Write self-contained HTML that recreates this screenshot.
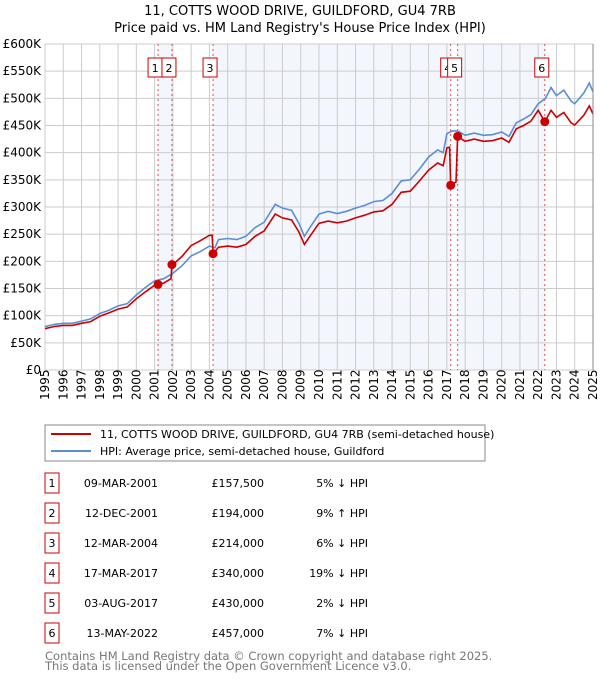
<!DOCTYPE html>
<html><head><meta charset="utf-8"><style>
body{margin:0;background:#fff;font-family:"DejaVu Sans","Liberation Sans",sans-serif;}
svg text{font-family:"DejaVu Sans","Liberation Sans",sans-serif;}
</style></head><body>
<svg id="c" width="600" height="680" xmlns="http://www.w3.org/2000/svg">
<text x="300" y="15" text-anchor="middle" font-size="13">11, COTTS WOOD DRIVE, GUILDFORD, GU4 7RB</text>
<text x="300" y="32" text-anchor="middle" font-size="13">Price paid vs. HM Land Registry's House Price Index (HPI)</text>
<g id="plot"></g>
<g>
<rect x="45" y="425" width="440" height="36" fill="#fff" stroke="#888"/>
<line x1="51" y1="434" x2="91" y2="434" stroke="#cc0000" stroke-width="2"/>
<text x="100" y="438" font-size="11">11, COTTS WOOD DRIVE, GUILDFORD, GU4 7RB (semi-detached house)</text>
<line x1="51" y1="451" x2="91" y2="451" stroke="#5b8fd4" stroke-width="2"/>
<text x="100" y="455" font-size="11">HPI: Average price, semi-detached house, Guildford</text>
</g>
<g id="table"></g>
<text x="45" y="660" font-size="11.5" fill="#777">Contains HM Land Registry data © Crown copyright and database right 2025.</text>
<text x="45" y="670" font-size="11.5" fill="#777">This data is licensed under the Open Government Licence v3.0.</text>
</svg>
<script>
const hpiDates=[1995,1995.5,1996,1996.5,1997,1997.5,1998,1998.5,1999,1999.5,2000,2000.5,2001,2001.5,2002,2002.5,2003,2003.5,2004,2004.3,2004.5,2005,2005.5,2006,2006.5,2007,2007.6,2008,2008.5,2008.9,2009.2,2009.5,2010,2010.5,2011,2011.5,2012,2012.5,2013,2013.5,2014,2014.5,2015,2015.5,2016,2016.5,2016.8,2017,2017.3,2017.6,2018,2018.5,2019,2019.5,2020,2020.4,2020.8,2021.2,2021.6,2022,2022.4,2022.7,2023,2023.4,2023.8,2024,2024.5,2024.8,2025];
const hpiValues=[80,84,86,86,90,94,104,110,118,122,138,152,164,168,178,192,210,218,228,225,240,242,240,246,262,272,305,298,294,270,246,262,287,292,288,292,298,303,310,312,325,348,350,370,392,405,400,435,440,440,432,436,432,433,438,430,455,462,470,490,500,520,505,515,495,490,510,528,512];
const redDates=[1995,1995.5,1996,1996.5,1997,1997.5,1998,1998.5,1999,1999.5,2000,2000.5,2001,2001.19,2001.5,2001.9,2001.95,2002,2002.5,2003,2003.5,2004,2004.15,2004.2,2004.5,2005,2005.5,2006,2006.5,2007,2007.6,2008,2008.5,2008.9,2009.2,2009.5,2010,2010.5,2011,2011.5,2012,2012.5,2013,2013.5,2014,2014.5,2015,2015.5,2016,2016.5,2016.8,2017,2017.15,2017.21,2017.5,2017.59,2018,2018.5,2019,2019.5,2020,2020.4,2020.8,2021.2,2021.6,2022,2022.36,2022.7,2023,2023.4,2023.8,2024,2024.5,2024.8,2025];
const redValues=[76,80,82,82,86,89,99,105,112,116,131,144,156,157.5,160,168,194,194,209,229,238,248,248,214,226,228,226,231,246,256,287,280,276,254,231,246,270,274,271,274,280,285,291,293,305,327,329,348,368,381,376,409,410,340,346,430,421,425,421,422,427,419,444,450,458,478,457,478,465,474,455,451,469,486,471];
const saleLabels=["1","2","3","4","5","6"];
const saleDates=[2001.19,2001.95,2004.2,2017.21,2017.59,2022.36];
const salePrices=[157.5,194,214,340,430,457];
const saleDateText=["09-MAR-2001","12-DEC-2001","12-MAR-2004","17-MAR-2017","03-AUG-2017","13-MAY-2022"];
const salePriceText=["£157,500","£194,000","£214,000","£340,000","£430,000","£457,000"];
const saleHpiText=["5% ↓ HPI","9% ↑ HPI","6% ↓ HPI","19% ↓ HPI","2% ↓ HPI","7% ↓ HPI"];
const yTicks=[0,50,100,150,200,250,300,350,400,450,500,550,600];
const yTickLabels=["£0","£50K","£100K","£150K","£200K","£250K","£300K","£350K","£400K","£450K","£500K","£550K","£600K"];
const xTicks=[1995,1996,1997,1998,1999,2000,2001,2002,2003,2004,2005,2006,2007,2008,2009,2010,2011,2012,2013,2014,2015,2016,2017,2018,2019,2020,2021,2022,2023,2024,2025];

const NS="http://www.w3.org/2000/svg";
const X0=45,X1=593,Y0=370,Y1=44;
const xs=d=>X0+(d-1995)/(2025-1995)*(X1-X0);
const ys=v=>Y0-v/600*(Y0-Y1);
const plot=document.getElementById('plot');
function mk(tag,attrs,parent){const e=document.createElementNS(NS,tag);for(const k in attrs)e.setAttribute(k,attrs[k]);(parent||plot).appendChild(e);return e;}

let bg=mk('rect',{x:X0,y:Y1,width:X1-X0,height:Y0-Y1,fill:'#fff'});


const shadePairs=[[0,1],[2,3],[4,5]];
shadePairs.forEach(p=>{
  let r=mk('rect',{x:xs(saleDates[p[0]]),y:Y1,width:xs(saleDates[p[1]])-xs(saleDates[p[0]]),height:Y0-Y1,fill:'#f3f6fd'});
  
  
});
yTicks.forEach((v,i)=>{
  let l=mk('line',{x1:X0,x2:X1,y1:ys(v),y2:ys(v),stroke:'#ccc','stroke-width':1});
  
  
  let t=mk('text',{x:X0-4,y:ys(v)+4,'text-anchor':'end','font-size':12});
  t.textContent=yTickLabels[i];
  
  
});
xTicks.forEach(d=>{
  let l=mk('line',{x1:xs(d),x2:xs(d),y1:Y1,y2:Y0,stroke:'#ccc','stroke-width':1});
  
  
  let t=mk('text',{transform:`translate(${xs(d)+4},${Y0+30}) rotate(-90)`,'text-anchor':'start','font-size':12});
  t.textContent=d;
  
  
});
saleDates.forEach(d=>{
  let l=mk('line',{x1:xs(d),x2:xs(d),y1:Y1,y2:Y0,stroke:'#e05050','stroke-width':1,'stroke-dasharray':'2,3'});
  
  
});
function pathFrom(dates,vals){return dates.map((d,i)=>(i?'L':'M')+xs(d).toFixed(1)+','+ys(vals[i]).toFixed(1)).join(' ');}
let hp=mk('path',{d:pathFrom(hpiDates,hpiValues),fill:'none',stroke:'#5b8fd4','stroke-width':1.6});


let rp=mk('path',{d:pathFrom(redDates,redValues),fill:'none',stroke:'#cc0000','stroke-width':1.6});


let ax=mk('line',{x1:X1,x2:X1,y1:Y1,y2:Y0,stroke:'#888'});


saleDates.forEach((d,i)=>{
  let c=mk('circle',{cx:xs(d),cy:ys(salePrices[i]),r:4.5,fill:'#cc0000'});
  
  
  let g=mk('g',{});
  
  
  mk('rect',{x:xs(d)-10,y:58,width:14,height:19,fill:'#fff',stroke:'#cc0000'},g);
  let t=mk('text',{x:xs(d)-3,y:72,'text-anchor':'middle','font-size':11},g);
  t.textContent=saleLabels[i];
});
const table=document.getElementById('table');
saleLabels.forEach((lab,i)=>{
  const cy=483+i*30;
  let g=mk('g',{},table);
  
  
  mk('rect',{x:45,y:cy-10,width:14,height:20,fill:'#fff',stroke:'#cc0000'},g);
  let t=mk('text',{x:52,y:cy+4,'text-anchor':'middle','font-size':11},g);t.textContent=lab;
  let a=mk('text',{x:158,y:cy+4,'text-anchor':'end','font-size':11},g);a.textContent=saleDateText[i];
  let b=mk('text',{x:264,y:cy+4,'text-anchor':'end','font-size':11},g);b.textContent=salePriceText[i];
  let c=mk('text',{x:368,y:cy+4,'text-anchor':'end','font-size':11},g);c.textContent=saleHpiText[i];
});
</script>
</body></html>
